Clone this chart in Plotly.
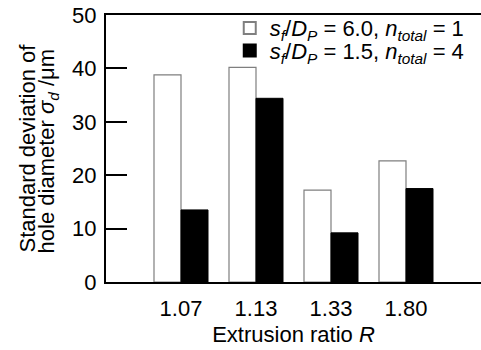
import plotly.graph_objects as go

categories = ["1.07", "1.13", "1.33", "1.80"]
series_a = [38.8, 40.2, 17.2, 22.7]   # s_f/D_P = 6.0, n_total = 1
series_b = [13.5, 34.4, 9.2, 17.5]    # s_f/D_P = 1.5, n_total = 4
y_ticks = [0, 10, 20, 30, 40, 50]

name_a = "<i>s</i><sub><i>f</i></sub>/<i>D</i><sub><i>P</i></sub> = 6.0, <i>n</i><sub><i>total</i></sub> = 1"
name_b = "<i>s</i><sub><i>f</i></sub>/<i>D</i><sub><i>P</i></sub> = 1.5, <i>n</i><sub><i>total</i></sub> = 4"
ytitle_1 = "Standard deviation of"
ytitle_2 = "hole diameter <i>σ</i><sub><i>d</i></sub> /μm"
xtitle = "Extrusion ratio <i>R</i>"

xpos = list(range(len(categories)))
FONT = "Liberation Sans"
FS = 22

fig = go.Figure()
fig.add_trace(go.Bar(x=xpos, y=series_a, name=name_a, legend="legend",
                     marker=dict(color="white", line=dict(color="#7f7f7f", width=1.2))))
fig.add_trace(go.Bar(x=xpos, y=series_b, name=name_b, legend="legend2",
                     marker=dict(color="black", line=dict(color="black", width=1))))

fig.add_annotation(text=ytitle_1, xref="paper", yref="paper", x=-0.208, y=0.101,
                   xanchor="center", yanchor="bottom", textangle=-90, showarrow=False,
                   font=dict(family=FONT, size=FS, color="black"))
fig.add_annotation(text=ytitle_2, xref="paper", yref="paper", x=-0.155, y=0.101,
                   xanchor="center", yanchor="bottom", textangle=-90, showarrow=False,
                   font=dict(family=FONT, size=FS, color="black"))

legend_style = dict(xanchor="left", yanchor="middle", bgcolor="rgba(0,0,0,0)",
                    font=dict(family=FONT, size=FS), itemsizing="constant")

fig.update_layout(
    width=481, height=350,
    margin=dict(l=106, r=0, t=15, b=68, autoexpand=False),
    paper_bgcolor="white", plot_bgcolor="white",
    barmode="group", bargap=0.28, bargroupgap=0,
    font=dict(family=FONT, size=FS, color="black"),
    showlegend=True,
    legend=dict(x=0.33, y=0.951, **legend_style),
    legend2=dict(x=0.33, y=0.866, **legend_style),
    xaxis=dict(range=[-1, 4], tickmode="array", tickvals=xpos, ticktext=categories,
               showline=True, linecolor="black", linewidth=2, mirror=True,
               ticks="", showgrid=False, zeroline=False, automargin=False,
               ticklabelstandoff=6,
               tickfont=dict(family=FONT, size=FS),
               title=dict(text=xtitle, standoff=6, font=dict(family=FONT, size=FS))),
    yaxis=dict(range=[0, 50], tickmode="array", tickvals=y_ticks,
               showline=True, linecolor="black", linewidth=2,
               ticks="inside", ticklen=21, tickwidth=2, tickcolor="black",
               showgrid=False, zeroline=False, ticklabelstandoff=3, automargin=False,
               ticklabeloverflow="allow",
               tickfont=dict(family=FONT, size=FS)),
)

fig.write_html("out.html", config={"displayModeBar": False},
               post_script="document.body.style.margin='0';document.body.style.overflow='hidden';")
